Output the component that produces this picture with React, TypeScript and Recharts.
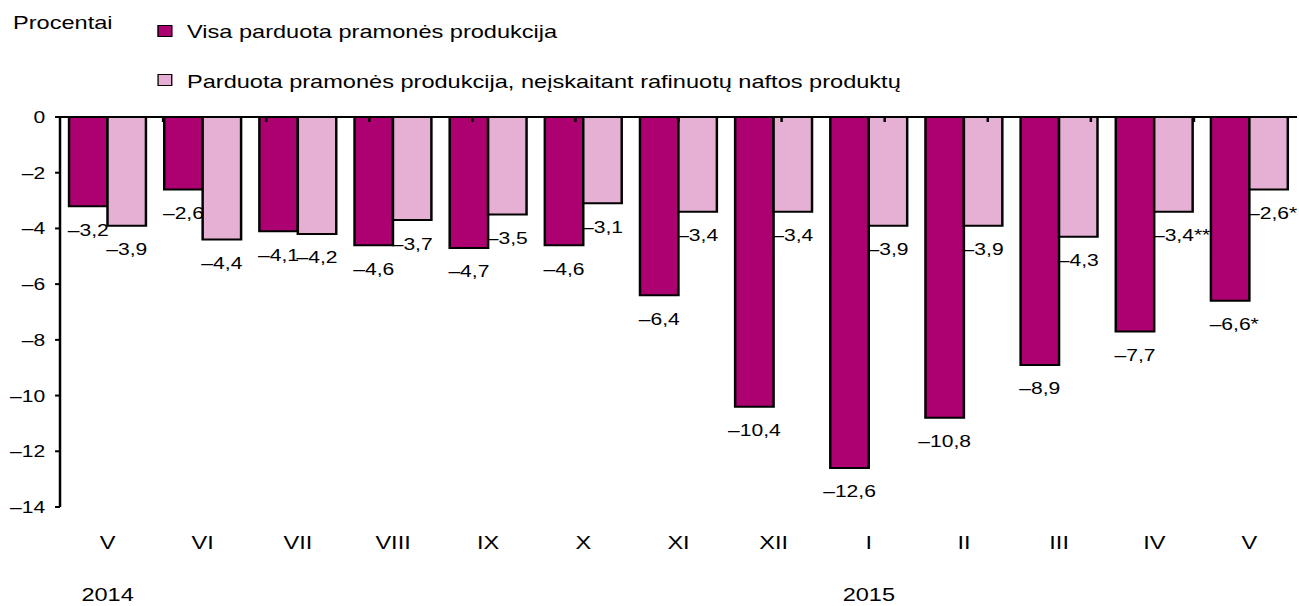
import React from 'react';
import { BarChart, Bar, XAxis, YAxis, LabelList, Legend } from 'recharts';

const months = ['V', 'VI', 'VII', 'VIII', 'IX', 'X', 'XI', 'XII', 'I', 'II', 'III', 'IV', 'V'];
const years = ['2014', '', '', '', '', '', '', '', '2015', '', '', '', ''];
const totalSold = [-3.2, -2.6, -4.1, -4.6, -4.7, -4.6, -6.4, -10.4, -12.6, -10.8, -8.9, -7.7, -6.6];
const excludingRefined = [-3.9, -4.4, -4.2, -3.7, -3.5, -3.1, -3.4, -3.4, -3.9, -3.9, -4.3, -3.4, -2.6];
const totalNotes = ['', '', '', '', '', '', '', '', '', '', '', '', '*'];
const excludingNotes = ['', '', '', '', '', '', '', '', '', '', '', '**', '*'];
const yTicks = [0, -2, -4, -6, -8, -10, -12, -14];
const seriesNames = [
  'Visa parduota pramonės produkcija',
  'Parduota pramonės produkcija, neįskaitant rafinuotų naftos produktų',
];
const seriesColors = ['#AD0071', '#E6B0D4'];
const unitLabel = 'Procentai';

const FONT = '"Liberation Sans", Arial, Helvetica, sans-serif';
const STRETCH = 1.24;
const W = 1048;
const H = 606;

const data = months.map((m, i) => ({
  month: m,
  year: years[i],
  total: totalSold[i],
  excl: excludingRefined[i],
}));
const sepTicks = months.map((_, i) => i + 1);

const fmtTick = (v: number) => (v === 0 ? '0' : (v < 0 ? '\u2013' : '') + Math.abs(v));
const fmtVal = (v: number) => (v < 0 ? '\u2013' : '') + Math.abs(v).toFixed(1).replace('.', ',');

const makeLabel = (notes: string[]) => (props: any) => {
  const { x, y, width, height, value, index } = props;
  const bottom = Math.max(Number(y), Number(y) + Number(height));
  const note = notes[index] || '';
  const cx = Number(x) + Number(width) / 2 + note.length * 3.3;
  return (
    <text x={cx} y={bottom + 29.5} textAnchor="middle" fontSize={17} fill="#000" fontFamily={FONT}>
      {fmtVal(Number(value)) + note}
    </text>
  );
};

const MonthTick = (props: any) => {
  const { x, y, payload, index } = props;
  const yr = years[index];
  return (
    <g>
      <text x={x} y={y + 42} textAnchor="middle" fontSize={19} fill="#000" fontFamily={FONT}>
        {payload.value}
      </text>
      {yr ? (
        <text x={x} y={y + 94} textAnchor="middle" fontSize={19} fill="#000" fontFamily={FONT}>
          {yr}
        </text>
      ) : null}
    </g>
  );
};

const LegendBlock = () => {
  const txt: React.CSSProperties = {
    position: 'absolute',
    fontFamily: FONT,
    fontSize: 19,
    lineHeight: '19px',
    color: '#000',
    whiteSpace: 'nowrap',
  };
  const sq = (top: number, color: string): React.CSSProperties => ({
    position: 'absolute',
    left: 127.4,
    top,
    width: 12,
    height: 12,
    boxSizing: 'border-box',
    border: '1.6px solid #000',
    background: color,
  });
  return (
    <div style={{ position: 'relative', width: 900, height: 100 }}>
      <div style={{ ...txt, left: 10.5, top: 13.2 }}>{unitLabel}</div>
      <div style={sq(25, seriesColors[0])} />
      <div style={{ ...txt, left: 150.8, top: 21.7 }}>{seriesNames[0]}</div>
      <div style={sq(74, seriesColors[1])} />
      <div style={{ ...txt, left: 150.8, top: 71.7 }}>{seriesNames[1]}</div>
    </div>
  );
};

export default function App() {
  return (
    <div
      style={{
        position: 'absolute',
        left: 0,
        top: 0,
        width: W,
        height: H,
        transform: `scaleX(${STRETCH})`,
        transformOrigin: '0 0',
        background: '#fff',
      }}
    >
      <BarChart
        width={W}
        height={H}
        data={data}
        margin={{ top: 117, right: 2, left: 0, bottom: 0 }}
        barCategoryGap="9.5%"
        barGap={0}
      >
        <Legend
          layout="vertical"
          align="center"
          verticalAlign="middle"
          wrapperStyle={{ left: 0, top: 0, width: 900, height: 100 }}
          content={() => <LegendBlock />}
        />
        <XAxis
          xAxisId="cat"
          dataKey="month"
          interval={0}
          height={99}
          axisLine={false}
          tickLine={false}
          tickSize={0}
          tickMargin={0}
          tick={<MonthTick />}
        />
        <XAxis
          xAxisId="sep"
          type="number"
          orientation="top"
          domain={[0, months.length]}
          ticks={sepTicks}
          allowDataOverflow
          mirror
          height={1}
          tickSize={5}
          axisLine={{ stroke: '#000', strokeWidth: 2 }}
          tickLine={{ stroke: '#000', strokeWidth: 2 }}
          tickFormatter={() => ''}
        />
        <YAxis
          width={48.4}
          domain={[-14, 0]}
          ticks={yTicks}
          interval={0}
          allowDataOverflow
          tickSize={4}
          tickMargin={8}
          axisLine={{ stroke: '#000', strokeWidth: 2 }}
          tickLine={{ stroke: '#000', strokeWidth: 2 }}
          tick={{ fontSize: 17, fill: '#000', fontFamily: FONT }}
          tickFormatter={fmtTick}
        />
        <Bar
          xAxisId="cat"
          dataKey="total"
          name={seriesNames[0]}
          fill={seriesColors[0]}
          stroke="#000"
          strokeWidth={2}
          isAnimationActive={false}
        >
          <LabelList dataKey="total" content={makeLabel(totalNotes)} />
        </Bar>
        <Bar
          xAxisId="cat"
          dataKey="excl"
          name={seriesNames[1]}
          fill={seriesColors[1]}
          stroke="#000"
          strokeWidth={2}
          isAnimationActive={false}
        >
          <LabelList dataKey="excl" content={makeLabel(excludingNotes)} />
        </Bar>
      </BarChart>
    </div>
  );
}
